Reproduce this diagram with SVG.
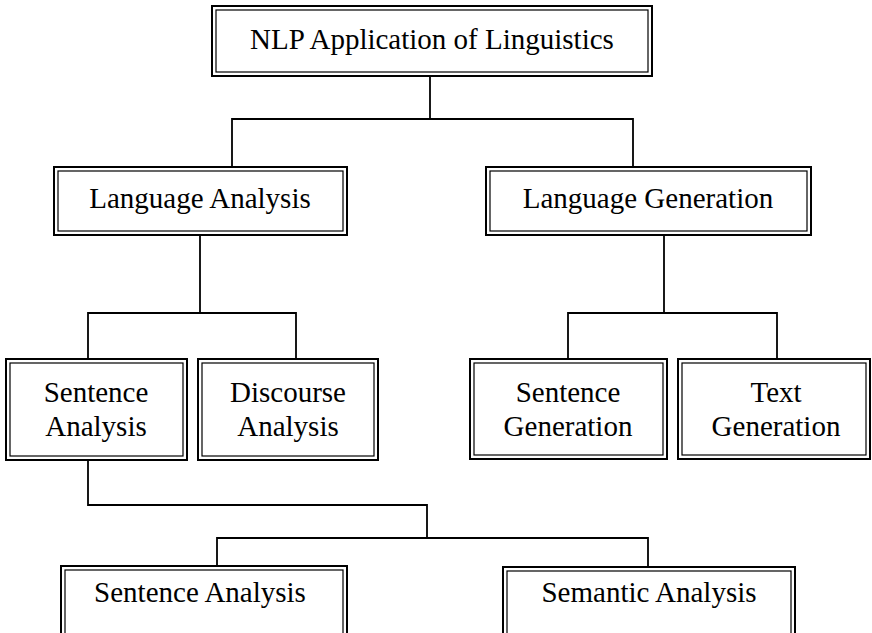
<svg xmlns="http://www.w3.org/2000/svg" width="872" height="633" viewBox="0 0 872 633">
  <style>
    .outer { fill: #fff; stroke: #000; stroke-width: 2; }
    .inner { fill: none; stroke: #000; stroke-width: 1.2; }
    .label { font-family: "Liberation Serif", "Times New Roman", serif; font-size: 29px; fill: #000; text-anchor: middle; }
    .wire { fill: none; stroke: #000; stroke-width: 1.8; }
  </style>
  <rect width="872" height="633" fill="#fff"/>

  <g id="connectors">
    <polyline class="wire" points="232,166 232,119 633,119 633,166"/>
    <line class="wire" x1="430" y1="76" x2="430" y2="119"/>
    <polyline class="wire" points="88,359 88,313 296,313 296,359"/>
    <line class="wire" x1="200" y1="235" x2="200" y2="313"/>
    <polyline class="wire" points="568,359 568,313 777,313 777,359"/>
    <line class="wire" x1="664" y1="235" x2="664" y2="313"/>
    <polyline class="wire" points="88,460 88,505 427,505 427,538"/>
    <polyline class="wire" points="217,566 217,538 648,538 648,566"/>
  </g>

  <g id="nlp-application">
    <rect class="outer" x="212" y="6" width="440" height="70"/>
    <rect class="inner" x="216" y="10" width="432" height="62"/>
    <text class="label" x="432" y="49">NLP Application of Linguistics</text>
  </g>

  <g id="language-analysis">
    <rect class="outer" x="54" y="167" width="293" height="68"/>
    <rect class="inner" x="58" y="171" width="285" height="60"/>
    <text class="label" x="200" y="208">Language Analysis</text>
  </g>

  <g id="language-generation">
    <rect class="outer" x="486" y="167" width="325" height="68"/>
    <rect class="inner" x="490" y="171" width="317" height="60"/>
    <text class="label" x="648" y="208">Language Generation</text>
  </g>

  <g id="sentence-analysis">
    <rect class="outer" x="6" y="359" width="181" height="101"/>
    <rect class="inner" x="10" y="363" width="173" height="93"/>
    <text class="label" x="96" y="402">Sentence</text>
    <text class="label" x="96" y="436">Analysis</text>
  </g>

  <g id="discourse-analysis">
    <rect class="outer" x="198" y="359" width="180" height="101"/>
    <rect class="inner" x="202" y="363" width="172" height="93"/>
    <text class="label" x="288" y="402">Discourse</text>
    <text class="label" x="288" y="436">Analysis</text>
  </g>

  <g id="sentence-generation">
    <rect class="outer" x="470" y="359" width="197" height="100"/>
    <rect class="inner" x="474" y="363" width="189" height="92"/>
    <text class="label" x="568" y="402">Sentence</text>
    <text class="label" x="568" y="436">Generation</text>
  </g>

  <g id="text-generation">
    <rect class="outer" x="678" y="359" width="192" height="100"/>
    <rect class="inner" x="682" y="363" width="184" height="92"/>
    <text class="label" x="776" y="402">Text</text>
    <text class="label" x="776" y="436">Generation</text>
  </g>

  <g id="sentence-analysis-detail">
    <rect class="outer" x="61" y="566" width="286" height="80"/>
    <rect class="inner" x="65" y="570" width="278" height="80"/>
    <text class="label" x="200" y="602">Sentence Analysis</text>
  </g>

  <g id="semantic-analysis">
    <rect class="outer" x="503" y="567" width="292" height="80"/>
    <rect class="inner" x="507" y="571" width="284" height="80"/>
    <text class="label" x="649" y="602">Semantic Analysis</text>
  </g>
</svg>
